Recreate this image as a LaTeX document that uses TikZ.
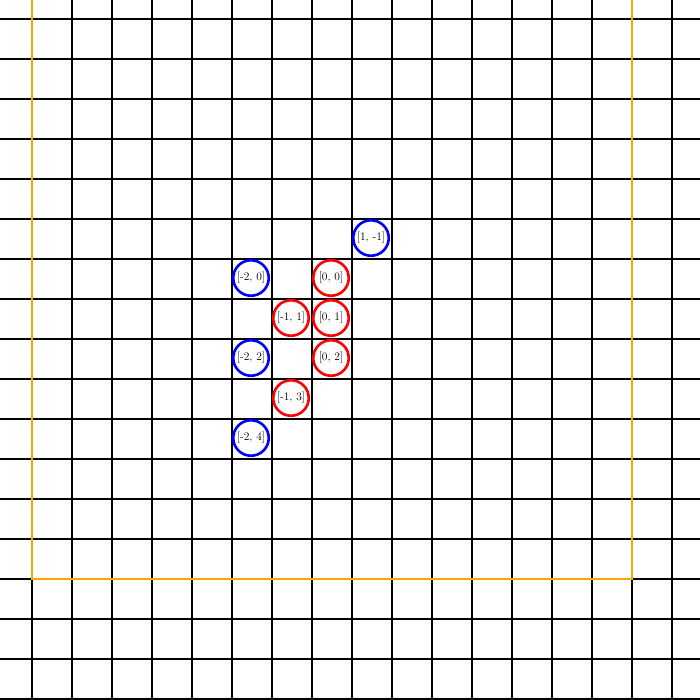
\documentclass[tikz,border=0pt]{standalone}
\begin{document}
\begin{tikzpicture}[x=1pt,y=-1pt,
  gridline/.style={black,line width=2pt},
  frame/.style={draw={rgb,255:red,255;green,165;blue,0},line width=2pt},
  cell/.style={circle,draw,line width=2.6pt,minimum size=35.5pt,inner sep=0pt,
    font=\fontsize{11.5}{13}\selectfont},
  redcell/.style={cell,draw=red},
  bluecell/.style={cell,draw=blue}]
\useasboundingbox (0,0) rectangle (700,700);
\clip (0,0) rectangle (700,700);
\fill[white] (0,0) rectangle (700,700);
\foreach \k in {0,...,16} {
  \draw[gridline] ({32+40*\k},-5) -- ({32+40*\k},705);
}
\foreach \k in {0,...,17} {
  \draw[gridline] (-5,{19+40*\k}) -- (705,{19+40*\k});
}
\draw[frame] (32,-21) rectangle (632,579);
\node[bluecell] (pm1m1) at (371,238) {[1, -1]};
\node[bluecell] (pm2z) at (251,278) {[-2, 0]};
\node[redcell] (pzz) at (331,278) {[0, 0]};
\node[redcell] (pm1a) at (291,318) {[-1, 1]};
\node[redcell] (pza) at (331,318) {[0, 1]};
\node[bluecell] (pm2b) at (251,358) {[-2, 2]};
\node[redcell] (pzb) at (331,358) {[0, 2]};
\node[redcell] (pm1c) at (291,398) {[-1, 3]};
\node[bluecell] (pm2d) at (251,438) {[-2, 4]};
\end{tikzpicture}
\end{document}
